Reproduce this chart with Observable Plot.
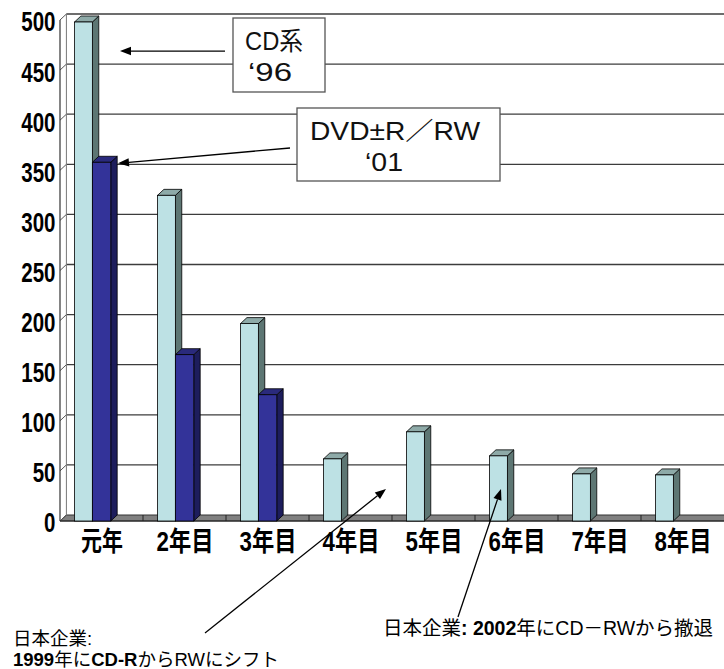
<!DOCTYPE html>
<html>
<head>
<meta charset="utf-8">
<script src="https://cdn.jsdelivr.net/npm/d3@7"></script>
<script src="https://cdn.jsdelivr.net/npm/@observablehq/plot@0.6"></script>
<style>
  body { margin: 0; background: #fff; }
</style>
</head>
<body>
<div id="chart"></div>
<script>
// Years since launch of each format, and units per year
const years = ["元年", "2年目", "3年目", "4年目", "5年目", "6年目", "7年目", "8年目"];
const cdValues = [498, 325, 197, 62, 89, 65, 47, 46];          // CD系 ('96)
const dvdValues = [358, 166, 126, null, null, null, null, null]; // DVD±R／RW ('01)
const yTicks = [0, 50, 100, 150, 200, 250, 300, 350, 400, 450, 500];

const seriesCD = "CD系";
const seriesDVD = "DVD±R／RW";

const rows = years.flatMap((cat, i) => [
  {cat, series: seriesCD, value: cdValues[i]},
  {cat, series: seriesDVD, value: dvdValues[i]}
]).filter(d => d.value != null);

// layout
const X_RANGE = [60, 724];
const BW = (X_RANGE[1] - X_RANGE[0]) / years.length;
const SLOT = {[seriesCD]: [0.175, 0.39], [seriesDVD]: [0.39, 0.612]}; // bar span within a band
const DX = 6.4, DY = 6;                                              // 3D depth offset

const colors = {
  [seriesCD]:  {front: "#bde1e4", side: "#5d7673", top: "#8eaaa8"},
  [seriesDVD]: {front: "#333399", side: "#1d1d5c", top: "#2a2a7c"}
};

const latin = "'Liberation Sans', 'Noto Sans CJK JP', sans-serif";

function bandwidthOf(x) {
  if (typeof x.bandwidth === "function") return x.bandwidth();
  if (typeof x.bandwidth === "number") return x.bandwidth;
  return BW;
}

// back wall, gridlines, floor
function frame3d(index, {x, y}, values, dim) {
  const g = d3.create("svg:g");
  const x0 = dim.marginLeft, x1 = dim.width - dim.marginRight;
  const yb = y(0), yt = y(500);
  g.append("polygon")
    .attr("points", [[x0, yb], [x1, yb], [x1 + DX, yb - DY], [x0 + DX, yb - DY]].join(" "))
    .attr("fill", "#808080").attr("stroke", "#333").attr("stroke-width", 1);
  for (const v of yTicks) {
    if (v > 0) {
      g.append("line")
        .attr("x1", x0 + DX).attr("x2", x1).attr("y1", y(v) - DY).attr("y2", y(v) - DY)
        .attr("stroke", "#3c3c3c").attr("stroke-width", 1.3);
    }
    g.append("line")
      .attr("x1", x0).attr("y1", y(v)).attr("x2", x0 + DX).attr("y2", y(v) - DY)
      .attr("stroke", "#555").attr("stroke-width", 1);
  }
  g.append("line")
    .attr("x1", x0 + DX).attr("x2", x0 + DX).attr("y1", yt - DY).attr("y2", yb - DY)
    .attr("stroke", "#777").attr("stroke-width", 1);
  g.append("line")
    .attr("x1", x0).attr("x2", x0).attr("y1", yt).attr("y2", yb)
    .attr("stroke", "#333").attr("stroke-width", 1.2);
  for (const cat of years.slice(1)) {
    const xb = x(cat);
    g.append("line")
      .attr("x1", xb).attr("x2", xb).attr("y1", yb - DY).attr("y2", yb)
      .attr("stroke", "#222").attr("stroke-width", 1);
  }
  g.append("line")
    .attr("x1", x0).attr("x2", x1).attr("y1", yb).attr("y2", yb)
    .attr("stroke", "#222").attr("stroke-width", 1);
  return g.node();
}

// top and right-hand faces of the columns
function barFaces(index, {x, y}) {
  const g = d3.create("svg:g").attr("stroke", "#000").attr("stroke-width", 0.8).attr("stroke-linejoin", "round");
  const bw = bandwidthOf(x);
  for (const s of [seriesCD, seriesDVD]) {
    for (const d of rows.filter(r => r.series === s)) {
      const xl = x(d.cat) + bw * SLOT[s][0];
      const xr = x(d.cat) + bw * SLOT[s][1];
      const yt = y(d.value), yb = y(0);
      g.append("polygon")
        .attr("points", [[xr, yt], [xr + DX, yt - DY], [xr + DX, yb - DY], [xr, yb]].join(" "))
        .attr("fill", colors[s].side);
      g.append("polygon")
        .attr("points", [[xl, yt], [xr, yt], [xr + DX, yt - DY], [xl + DX, yt - DY]].join(" "))
        .attr("fill", colors[s].top);
    }
  }
  return g.node();
}

function arrow(g, from, to) {
  const [ax, ay] = from, [bx, by] = to;
  const a = Math.atan2(by - ay, bx - ax);
  const L = 11, W = 4.2;
  const bx0 = bx - L * Math.cos(a), by0 = by - L * Math.sin(a);
  g.append("line").attr("x1", ax).attr("y1", ay).attr("x2", bx0).attr("y2", by0)
    .attr("stroke", "#000").attr("stroke-width", 1.3);
  g.append("polygon")
    .attr("points", [[bx, by],
      [bx0 + W * Math.sin(a), by0 - W * Math.cos(a)],
      [bx0 - W * Math.sin(a), by0 + W * Math.cos(a)]].join(" "))
    .attr("fill", "#000");
}

// callout boxes and notes
function annotations(index, {x, y}) {
  const g = d3.create("svg:g");
  const boxes = [
    {rect: [233, 18, 325, 92], lines: [["CD系", 274, 41, 58], ["‘96", 270, 72, 44]],
     from: [225, y(469)], to: [x("元年") + 60, y(469)]},
    {rect: [297, 108, 500, 181], lines: [["DVD±R／RW", 395, 131, 170], ["‘01", 384, 162, 38]],
     from: [290, 148], to: [x("元年") + 58, y(357)]}
  ];
  for (const b of boxes) {
    arrow(g, b.from, b.to);
    const [l, t, r, btm] = b.rect;
    g.append("rect").attr("x", l).attr("y", t).attr("width", r - l).attr("height", btm - t)
      .attr("fill", "#fff").attr("stroke", "#555").attr("stroke-width", 1.3);
    for (const [txt, cx, cy, len] of b.lines) {
      g.append("text").attr("x", cx).attr("y", cy).attr("text-anchor", "middle")
        .attr("dominant-baseline", "central")
        .attr("textLength", len).attr("lengthAdjust", "spacingAndGlyphs")
        .attr("font-family", latin).attr("font-size", 25).attr("fill", "#111").text(txt);
    }
  }

  arrow(g, [205, 633], [x("4年目") + 77, y(32)]);
  arrow(g, [458, 617], [x("6年目") + 26, y(32)]);

  const note = (tx, ty, size, parts) => {
    const t = g.append("text").attr("x", tx).attr("y", ty).attr("text-anchor", "start")
      .attr("font-family", latin).attr("font-size", size).attr("fill", "#000");
    for (const [s, bold] of parts) t.append("tspan").attr("font-weight", bold ? "bold" : "normal").text(s);
  };
  note(13, 644.5, 18.5, [["日本企業:", false]]);
  note(13, 665.5, 18.5, [["1999", true], ["年に", false], ["CD-R", true], ["からRWにシフト", false]]);
  note(383, 634.5, 19.5, [["日本企業", false], [": 2002", true], ["年にCD－RWから撤退", false]]);
  return g.node();
}

const fronts = s => Plot.barY(rows.filter(d => d.series === s), {
  x: "cat", y: "value",
  fill: colors[s].front, stroke: "#000", strokeWidth: 0.8,
  insetLeft: BW * SLOT[s][0], insetRight: BW * (1 - SLOT[s][1])
});

const chart = Plot.plot({
  width: 724, height: 669,
  marginLeft: 60, marginRight: 0, marginTop: 20, marginBottom: 148,
  x: {type: "band", domain: years, range: X_RANGE, padding: 0, axis: null},
  y: {domain: [0, 500], range: [521, 20], axis: null},
  style: {background: "#fff", overflow: "visible"},
  marks: [
    frame3d,
    barFaces,
    fronts(seriesCD),
    fronts(seriesDVD),
    Plot.text(yTicks, {
      y: d => d, text: d => String(d), frameAnchor: "left", textAnchor: "end",
      dx: -5, dy: 2, fontSize: 28, fontWeight: "bold", fontFamily: latin, fill: "#000"
    }),
    Plot.text(years, {
      x: d => d, text: d => d, frameAnchor: "bottom", dy: 29,
      fontSize: 27, fontWeight: "bold", fontFamily: latin, fill: "#000"
    }),
    annotations
  ]
});

// condensed tick lettering
const svgNode = chart.tagName.toLowerCase() === "svg" ? chart : chart.querySelector("svg");
const tickSet = new Set(yTicks.map(String));
const yearSet = new Set(years);
d3.select(svgNode).selectAll("text").each(function () {
  const s = this.textContent;
  if (tickSet.has(s)) {
    this.setAttribute("textLength", s.length * 11.4);
    this.setAttribute("lengthAdjust", "spacingAndGlyphs");
  } else if (yearSet.has(s)) {
    const len = [...s].reduce((a, c) => a + (/[0-9]/.test(c) ? 15 : 21), 0);
    this.setAttribute("textLength", len);
    this.setAttribute("lengthAdjust", "spacingAndGlyphs");
  }
});

document.getElementById("chart").append(chart);
</script>
</body>
</html>
